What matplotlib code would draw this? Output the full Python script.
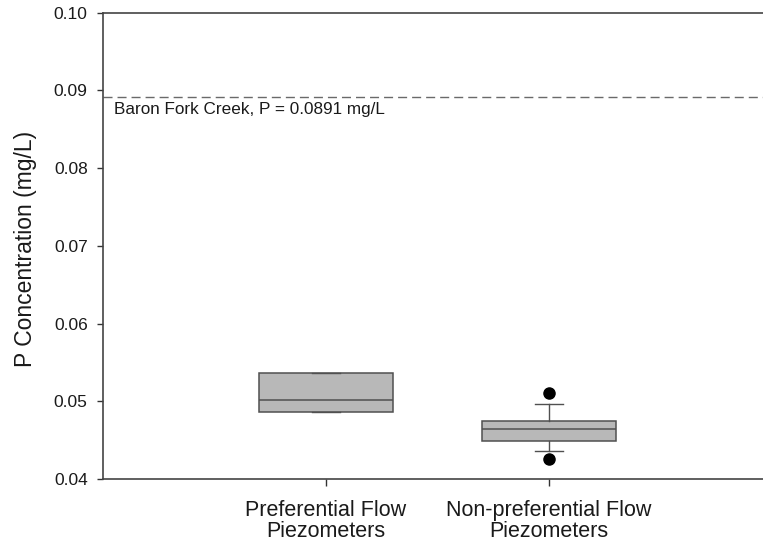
import matplotlib
matplotlib.use('Agg')
import matplotlib.pyplot as plt

plt.rcParams['font.family'] = ['Liberation Sans', 'DejaVu Sans']

# box statistics (mg/L)
labels = ['Preferential Flow\nPiezometers', 'Non-preferential Flow\nPiezometers']
q1 = [0.0486, 0.0449]
med = [0.0502, 0.0464]
q3 = [0.0537, 0.0475]
whislo = [0.0486, 0.0436]
whishi = [0.0537, 0.0496]
fliers = [[], [0.0426, 0.0511]]

creek_p = 0.0891
creek_label = 'Baron Fork Creek, P = 0.0891 mg/L'

yticks = [0.04, 0.05, 0.06, 0.07, 0.08, 0.09, 0.10]

stats = []
for i in range(len(labels)):
    stats.append({'q1': q1[i], 'med': med[i], 'q3': q3[i],
                  'whislo': whislo[i], 'whishi': whishi[i],
                  'fliers': fliers[i], 'label': labels[i]})

fig = plt.figure(figsize=(7.63, 5.45), dpi=100)
ax = fig.add_axes([0.135, 0.121, 0.865, 0.856])

edge = '#505050'
ax.bxp(stats, positions=[1, 2], widths=0.6, capwidths=0.125,
       patch_artist=True, showfliers=True,
       boxprops=dict(facecolor='#b8b8b8', edgecolor=edge, linewidth=1.1),
       medianprops=dict(color=edge, linewidth=1.1),
       whiskerprops=dict(color=edge, linewidth=1.0),
       capprops=dict(color=edge, linewidth=1.0),
       flierprops=dict(marker='o', markerfacecolor='black', markeredgecolor='black',
                       markersize=8))

ax.axhline(creek_p, color='#6a6a6a', linewidth=1.0, dashes=[6.5, 3.6])
ax.text(0.05, 0.0870, creek_label, fontsize=12.3, color='#1a1a1a', va='baseline')

ax.set_xlim(0, 2.96)
ax.set_ylim(0.04, 0.10)
ax.set_yticks(yticks)
ax.set_yticklabels(['%.2f' % v for v in yticks])
ax.set_xticks([1, 2])
ax.set_xticklabels(labels, linespacing=1.0)

ax.tick_params(axis='y', direction='out', length=4, width=1, labelsize=12.5, pad=7,
               colors='#333333', labelcolor='#1a1a1a')
ax.tick_params(axis='x', direction='out', length=5, width=1, labelsize=15.5, pad=10,
               colors='#333333', labelcolor='#1a1a1a')

ax.set_ylabel('P Concentration (mg/L)', fontsize=16.5, color='#1a1a1a')
ax.yaxis.set_label_coords(-0.1, 0.494)

for s in ['left', 'bottom', 'top']:
    ax.spines[s].set_color('#444444')
    ax.spines[s].set_linewidth(1.2)
ax.spines['right'].set_visible(False)

fig.savefig('out.png', dpi=100)
